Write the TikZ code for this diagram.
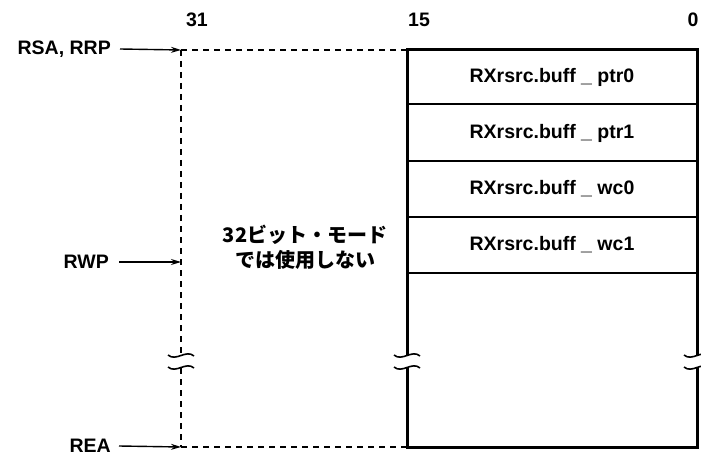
\documentclass[tikz,border=0pt]{standalone}
\usepackage{fontspec}
\setmainfont{Liberation Sans}
\newfontfamily\jpfont{Noto Sans CJK JP}
\usetikzlibrary{arrows.meta}
\begin{document}
\begin{tikzpicture}[x=1bp,y=-1bp,
  lbl/.style={font=\fontsize{19.5bp}{22bp}\selectfont\bfseries, inner sep=0pt},
  celltext/.style={font=\fontsize{19.5bp}{22bp}\selectfont\bfseries, inner sep=0pt},
  arr/.style={line width=1.4bp, -{Stealth[length=10bp,width=6bp]}},
  dsh/.style={line width=1.5bp, dash pattern=on 6bp off 5bp},
  boxline/.style={line width=3bp},
  rowline/.style={line width=1.4bp},
  brk/.style={line width=1.6bp}]
\useasboundingbox (0,0) rectangle (701,456);

% column numbers
\node[lbl] (n31) at (197,20) {31};
\node[lbl] (n15) at (419,20) {15};
\node[lbl] (n0)  at (693,20) {0};

% key coordinates
\coordinate (dtop) at (181,50);
\coordinate (drwp) at (181,262);
\coordinate (dbot) at (181,447);
\coordinate (btl) at (407,50);
\coordinate (btr) at (697,50);
\coordinate (bbl) at (407,447);
\coordinate (bbr) at (697,447);

% pointer labels and arrows
\node[lbl, anchor=east] (rsa) at (111,49) {RSA, RRP};
\node[lbl, anchor=east] (rwp) at (109,262) {RWP};
\node[lbl, anchor=east] (rea) at (111,446) {REA};
\draw[arr] ([xshift=9bp]rsa.east) -- (dtop);
\draw[arr] ([xshift=10bp]rwp.east) -- (drwp);
\draw[arr] ([xshift=8bp]rea.east) -- (dbot);

% dashed region
\draw[dsh] (dtop) -- (btl);
\draw[dsh] (dbot) -- (bbl);
\draw[dsh] (dtop) -- (181,356);
\draw[dsh] (181,368) -- (dbot);

% cells
\node[celltext] (c0) at (552,77) {RXrsrc.buff \_ ptr0};
\node[celltext] (c1) at (552,133) {RXrsrc.buff \_ ptr1};
\node[celltext] (c2) at (552,189) {RXrsrc.buff \_ wc0};
\node[celltext] (c3) at (552,245) {RXrsrc.buff \_ wc1};
\draw[rowline] (407,104) -- (697,104);
\draw[rowline] (407,161) -- (697,161);
\draw[rowline] (407,217) -- (697,217);
\draw[rowline] (407,273) -- (697,273);

% box outline
\draw[boxline, line cap=rect] (btl) -- (btr);
\draw[boxline, line cap=rect] (bbl) -- (bbr);
\draw[boxline] (btl) -- (407,356);
\draw[boxline] (407,368) -- (bbl);
\draw[boxline] (btr) -- (697,356);
\draw[boxline] (697,368) -- (bbr);

% break marks
\foreach \xx in {181,407,697}{
  \draw[brk] (\xx-13,355) .. controls (\xx-5,362) and (\xx+5,349) .. (\xx+13,356);
  \draw[brk] (\xx-13,367) .. controls (\xx-5,374) and (\xx+5,361) .. (\xx+13,368);
}

% japanese note
\node[font=\jpfont\bfseries\fontsize{20bp}{25bp}\selectfont, align=center, inner sep=0pt] (note) at (305,247) {32ビット・モード\\では使用しない};
\end{tikzpicture}
\end{document}
